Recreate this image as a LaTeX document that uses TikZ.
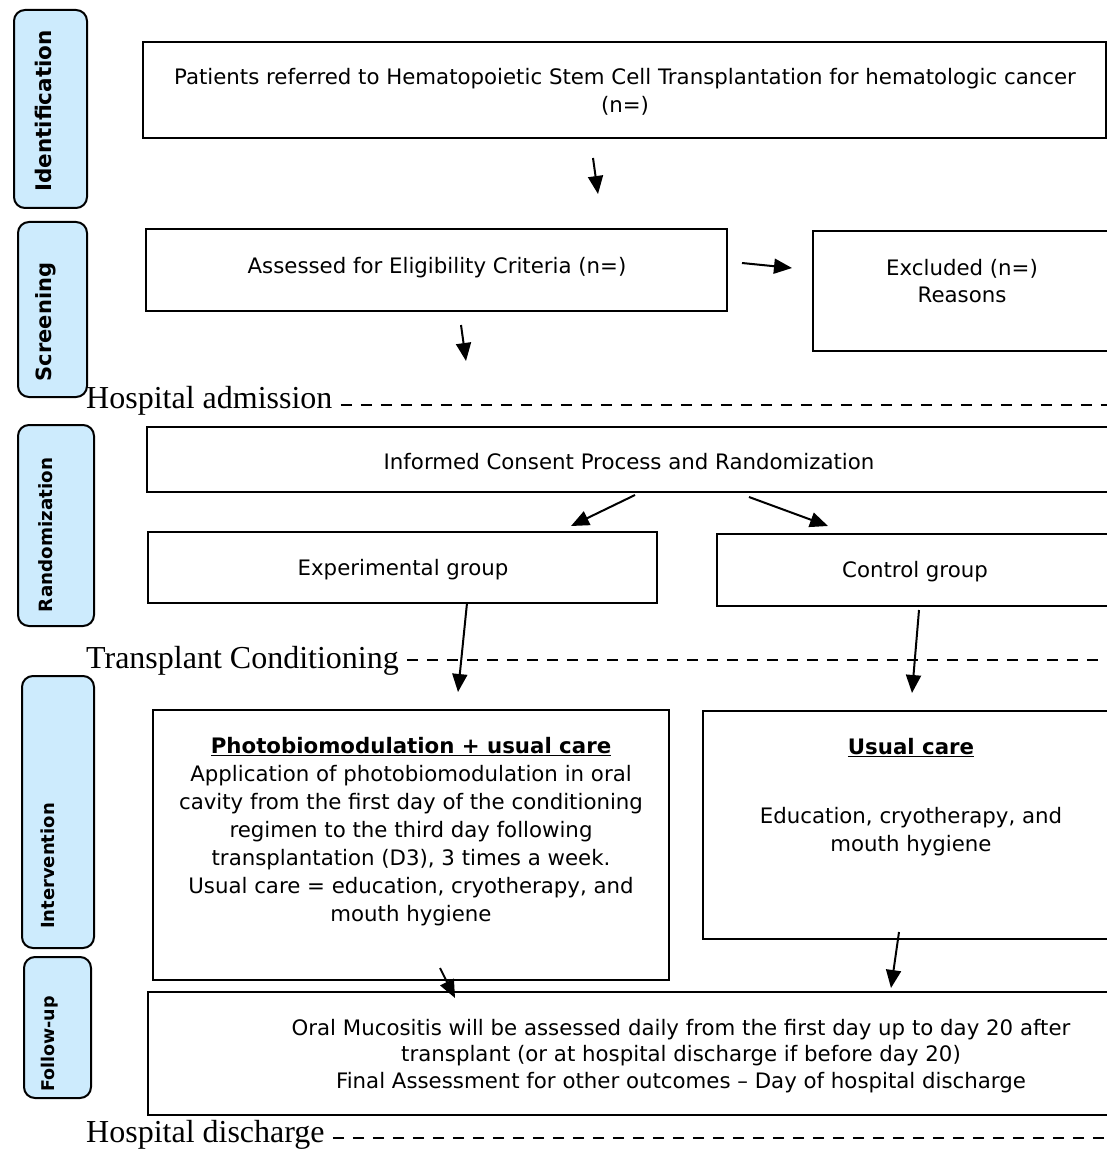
\documentclass[tikz,border=0pt]{standalone}
\usepackage{fontspec}
\setmainfont{DejaVu Sans}
\newfontfamily\labserif{Liberation Serif}
\usetikzlibrary{arrows.meta}
\definecolor{sideblue}{RGB}{205,235,253}
\begin{document}
\begin{tikzpicture}[x=1pt,y=-1pt,
  box/.style={draw=black, line width=2.4pt, inner sep=0pt, outer sep=0pt, anchor=north west},
  side/.style={draw=black, line width=2pt, fill=sideblue, rounded corners=11pt, inner sep=0pt, outer sep=0pt, anchor=north west},
  sidetxt/.style={rotate=90, inner sep=0pt, font=\bfseries\fontsize{#1}{#1}\selectfont},
  txt/.style={align=center, inner sep=0pt, font=\fontsize{21.3}{27.5}\selectfont},
  stage/.style={anchor=west, inner sep=0pt, font=\labserif\fontsize{32}{32}\selectfont},
  arr/.style={line width=2pt, -{Triangle[length=18pt,width=15pt]}},
  dashline/.style={line width=2.2pt, dash pattern=on 11pt off 9pt}]
\useasboundingbox (0,0) rectangle (1107,1150);
\clip (0,0) rectangle (1107,1150);

% side labels
\node[side, minimum width=73, minimum height=198] (sid) at (14,10) {};
\node[sidetxt=21.5] (sidt) at (43,111) {Identification};
\node[side, minimum width=69, minimum height=175] (ssc) at (18,222) {};
\node[sidetxt=21] (ssct) at (46,322) {Screening};
\node[side, minimum width=76, minimum height=201] (sra) at (18,425) {};
\node[sidetxt=18.3] (srat) at (46,535) {Randomization};
\node[side, minimum width=72, minimum height=272] (sin) at (22,676) {};
\node[sidetxt=18] (sint) at (48,866) {Intervention};
\node[side, minimum width=67, minimum height=141] (sfo) at (24,957) {};
\node[sidetxt=17.5] (sfot) at (50,1044) {Follow-up};

% boxes
\node[box, minimum width=963, minimum height=96] (b1) at (143,42) {};
\node[txt] (t1) at (625,92) {Patients referred to Hematopoietic Stem Cell Transplantation for hematologic cancer\\(n=)};
\node[box, minimum width=581, minimum height=82] (b2) at (146,229) {};
\node[txt] (t2) at (437,268) {Assessed for Eligibility Criteria (n=)};
\node[box, minimum width=320, minimum height=120] (b3) at (813,231) {};
\node[txt] (t3) at (962,281) {Excluded (n=)\\Reasons};
\node[box, minimum width=990, minimum height=65] (b4) at (147,427) {};
\node[txt] (t4) at (629,462) {Informed Consent Process and Randomization};
\node[box, minimum width=509, minimum height=71] (b5) at (148,532) {};
\node[txt] (t5) at (403,570) {Experimental group};
\node[box, minimum width=420, minimum height=72] (b6) at (717,534) {};
\node[txt] (t6) at (915,572) {Control group};
\node[box, minimum width=516, minimum height=270] (b7) at (153,710) {};
\node[txt, font=\fontsize{21.3}{28}\selectfont] (t7) at (411,832) {\underline{\textbf{Photobiomodulation + usual care}}\\Application of photobiomodulation in oral\\cavity from the first day of the conditioning\\regimen to the third day following\\transplantation (D3), 3 times a week.\\Usual care = education, cryotherapy, and\\mouth hygiene};
\node[box, minimum width=430, minimum height=228] (b8) at (703,711) {};
\node[txt] (t8a) at (911,748) {\underline{\textbf{Usual care}}};
\node[txt, font=\fontsize{21.3}{28}\selectfont] (t8b) at (911,832) {Education, cryotherapy, and\\mouth hygiene};
\node[box, minimum width=990, minimum height=123] (b9) at (148,992) {};
\node[txt, font=\fontsize{21.3}{26.5}\selectfont] (t9) at (681,1056) {Oral Mucositis will be assessed daily from the first day up to day 20 after\\transplant (or at hospital discharge if before day 20)\\Final Assessment for other outcomes -- Day of hospital discharge};

% stage lines
\node[stage] (ha) at (86,401) {Hospital admission};
\coordinate (d1) at (1110,405);
\draw[dashline, shorten <=8pt] (ha.east |- d1) -- (d1);
\node[stage] (tc) at (86,661) {Transplant Conditioning};
\coordinate (d2) at (1110,660);
\draw[dashline, shorten <=8pt] (tc.east |- d2) -- (d2);
\node[stage] (hd) at (86,1135) {Hospital discharge};
\coordinate (d3) at (1110,1138);
\draw[dashline, shorten <=8pt] (hd.east |- d3) -- (d3);

% arrows
\coordinate (a1s) at (593,158); \coordinate (a1e) at (598,194);
\draw[arr] (a1s) -- (a1e);
\coordinate (a2s) at (742,263); \coordinate (a2e) at (792,268);
\draw[arr] (a2s) -- (a2e);
\coordinate (a3s) at (461,325); \coordinate (a3e) at (466,361);
\draw[arr] (a3s) -- (a3e);
\coordinate (a4s) at (635,495); \coordinate (a4e) at (571,526);
\draw[arr] (a4s) -- (a4e);
\coordinate (a5s) at (749,497); \coordinate (a5e) at (828,526);
\draw[arr] (a5s) -- (a5e);
\coordinate (a6s) at (467,603); \coordinate (a6e) at (458,692);
\draw[arr] (a6s) -- (a6e);
\coordinate (a7s) at (919,610); \coordinate (a7e) at (912,693);
\draw[arr] (a7s) -- (a7e);
\coordinate (a8s) at (440,968); \coordinate (a8e) at (455,998);
\draw[arr] (a8s) -- (a8e);
\coordinate (a9s) at (899,932); \coordinate (a9e) at (891,988);
\draw[arr] (a9s) -- (a9e);
\end{tikzpicture}
\end{document}
